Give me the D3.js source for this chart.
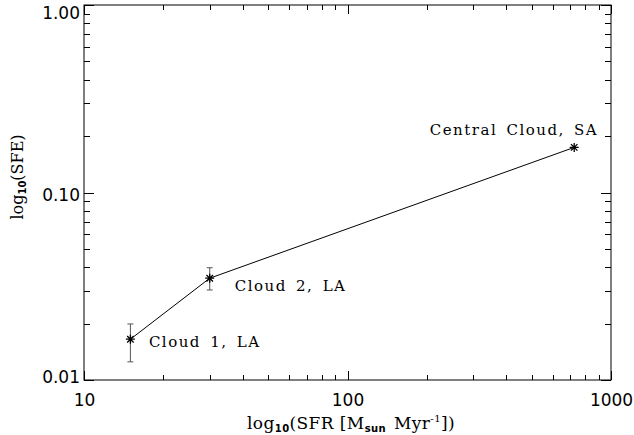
<!DOCTYPE html>
<html>
<head>
<meta charset="utf-8">
<script src="https://cdn.jsdelivr.net/npm/d3@7"></script>
<style>
  body { margin: 0; background: #fff; }
  svg { display: block; }
  .tick text { font-family: "DejaVu Sans", sans-serif; font-size: 17px; fill: #000; }
  .domain { display: none; }
  .tick line { stroke: #000; }
</style>
</head>
<body>
<main></main>
<script>
const sfr = [15, 30, 725];
const sfe = [0.0165, 0.0349, 0.174];
const errLo = [0.0125, 0.0302, null];
const errHi = [0.0199, 0.0397, null];
const names = ['Cloud 1, LA', 'Cloud 2, LA', 'Central Cloud, SA'];
const xMajor = [10, 100, 1000];
const xMinor = [20, 30, 40, 50, 60, 70, 80, 90, 200, 300, 400, 500, 600, 700, 800, 900];
const yMajor = [0.01, 0.1, 1];
const yMinor = [0.02, 0.03, 0.04, 0.05, 0.06, 0.07, 0.08, 0.09, 0.2, 0.3, 0.4, 0.5, 0.6, 0.7, 0.8, 0.9];

const w = 634, h = 435;
const pLeft = 84, pRight = 611, pTop = 5, pBottom = 380;
const svg = d3.select('main').append('svg').attr('width', w).attr('height', h);

const x = d3.scaleLog().domain([10, 1000]).range([pLeft, pRight]);
const y = d3.scaleLog().domain([0.01, 1]).range([pBottom, pTop]);

// frame
svg.append('rect')
    .attr('x', pLeft).attr('y', pTop)
    .attr('width', pRight - pLeft).attr('height', pBottom - pTop)
    .attr('fill', 'none').attr('stroke', '#000').attr('stroke-width', 1);

// bottom axis (labels + inward ticks)
svg.append('g').attr('transform', `translate(0,${pBottom})`)
    .call(d3.axisBottom(x).tickValues(xMajor).tickSize(-9).tickPadding(14).tickFormat(d3.format('d')));
svg.append('g').attr('transform', `translate(0,${pBottom})`)
    .call(d3.axisBottom(x).tickValues(xMinor).tickSize(-5).tickFormat(''));
// top axis
svg.append('g').attr('transform', `translate(0,${pTop})`)
    .call(d3.axisTop(x).tickValues(xMajor).tickSize(-9).tickFormat(''));
svg.append('g').attr('transform', `translate(0,${pTop})`)
    .call(d3.axisTop(x).tickValues(xMinor).tickSize(-5).tickFormat(''));
// left axis
const yAxisG = svg.append('g').attr('transform', `translate(${pLeft},0)`)
    .call(d3.axisLeft(y).tickValues(yMajor).tickSize(-10).tickPadding(4).tickFormat(d3.format('.2f')));
// IDL keeps the labels inside the plot range
yAxisG.selectAll('.tick text')
    .attr('dy', null)
    .attr('y', d => d === 1 ? 13 : d === 0.1 ? 7.5 : 2);
svg.append('g').attr('transform', `translate(${pLeft},0)`)
    .call(d3.axisLeft(y).tickValues(yMinor).tickSize(-6).tickFormat(''));
// right axis
svg.append('g').attr('transform', `translate(${pRight},0)`)
    .call(d3.axisRight(y).tickValues(yMajor).tickSize(-10).tickFormat(''));
svg.append('g').attr('transform', `translate(${pRight},0)`)
    .call(d3.axisRight(y).tickValues(yMinor).tickSize(-6).tickFormat(''));

svg.selectAll('.tick line').attr('stroke-width', 1).attr('shape-rendering', 'crispEdges');

const pts = sfr.map((d, i) => ({ x: d, y: sfe[i], lo: errLo[i], hi: errHi[i], name: names[i] }));

// connecting line
svg.append('path')
    .datum(pts)
    .attr('fill', 'none')
    .attr('stroke', '#000')
    .attr('stroke-width', 1)
    .attr('d', d3.line().x(d => x(d.x)).y(d => y(d.y)));

// error bars
const eb = pts.filter(d => d.lo != null);
const errG = svg.append('g').attr('stroke', '#555').attr('stroke-width', 1);
errG.selectAll('line.v').data(eb).enter().append('line')
    .attr('x1', d => x(d.x)).attr('x2', d => x(d.x))
    .attr('y1', d => y(d.lo)).attr('y2', d => y(d.hi));
errG.selectAll('line.lo').data(eb).enter().append('line')
    .attr('x1', d => x(d.x) - 3).attr('x2', d => x(d.x) + 3)
    .attr('y1', d => y(d.lo)).attr('y2', d => y(d.lo));
errG.selectAll('line.hi').data(eb).enter().append('line')
    .attr('x1', d => x(d.x) - 3).attr('x2', d => x(d.x) + 3)
    .attr('y1', d => y(d.hi)).attr('y2', d => y(d.hi));

// asterisk markers
const r = 4.5, q = r * 0.72;
const star = `M0,${-r}L0,${r}M${-r},0L${r},0M${-q},${-q}L${q},${q}M${-q},${q}L${q},${-q}`;
svg.selectAll('path.star').data(pts).enter().append('path')
    .attr('class', 'star')
    .attr('transform', d => `translate(${x(d.x)},${y(d.y)})`)
    .attr('d', star)
    .attr('stroke', '#000')
    .attr('stroke-width', 1.3)
    .attr('fill', 'none');

// point labels
const offs = [[18.5, 8, 'start'], [25, 12.5, 'start'], [24, -12, 'end']];
svg.selectAll('text.lab').data(pts).enter().append('text')
    .attr('class', 'lab')
    .attr('x', (d, i) => x(d.x) + offs[i][0])
    .attr('y', (d, i) => y(d.y) + offs[i][1])
    .attr('text-anchor', (d, i) => offs[i][2])
    .attr('font-family', 'DejaVu Serif, serif')
    .attr('font-size', 15)
    .attr('letter-spacing', 1.5)
    .attr('word-spacing', 3)
    .text(d => d.name);

// axis titles
const xt = svg.append('text')
    .attr('x', 351).attr('y', 429)
    .attr('text-anchor', 'middle')
    .attr('font-family', 'DejaVu Serif, serif')
    .attr('font-size', 17)
    .attr('letter-spacing', 0.4);
xt.append('tspan').text('log');
xt.append('tspan').attr('font-size', 10).attr('font-family', 'DejaVu Sans, sans-serif').attr('font-weight', 'bold').attr('dy', 3).text('10');
xt.append('tspan').attr('dy', -3).text('(SFR [M');
xt.append('tspan').attr('font-size', 10).attr('font-family', 'DejaVu Sans, sans-serif').attr('font-weight', 'bold').attr('dy', 3).text('sun');
xt.append('tspan').attr('dy', -3).attr('dx', 8).text('Myr');
xt.append('tspan').attr('font-size', 10).attr('dy', -7).text('-1');
xt.append('tspan').attr('dy', 7).text('])');

const yt = svg.append('text')
    .attr('transform', 'translate(23,177) rotate(-90)')
    .attr('text-anchor', 'middle')
    .attr('font-family', 'DejaVu Serif, serif')
    .attr('font-size', 16);
yt.append('tspan').text('log');
yt.append('tspan').attr('font-size', 10).attr('font-family', 'DejaVu Sans, sans-serif').attr('font-weight', 'bold').attr('dy', 3).text('10');
yt.append('tspan').attr('dy', -3).text('(SFE)');
</script>
</body>
</html>
